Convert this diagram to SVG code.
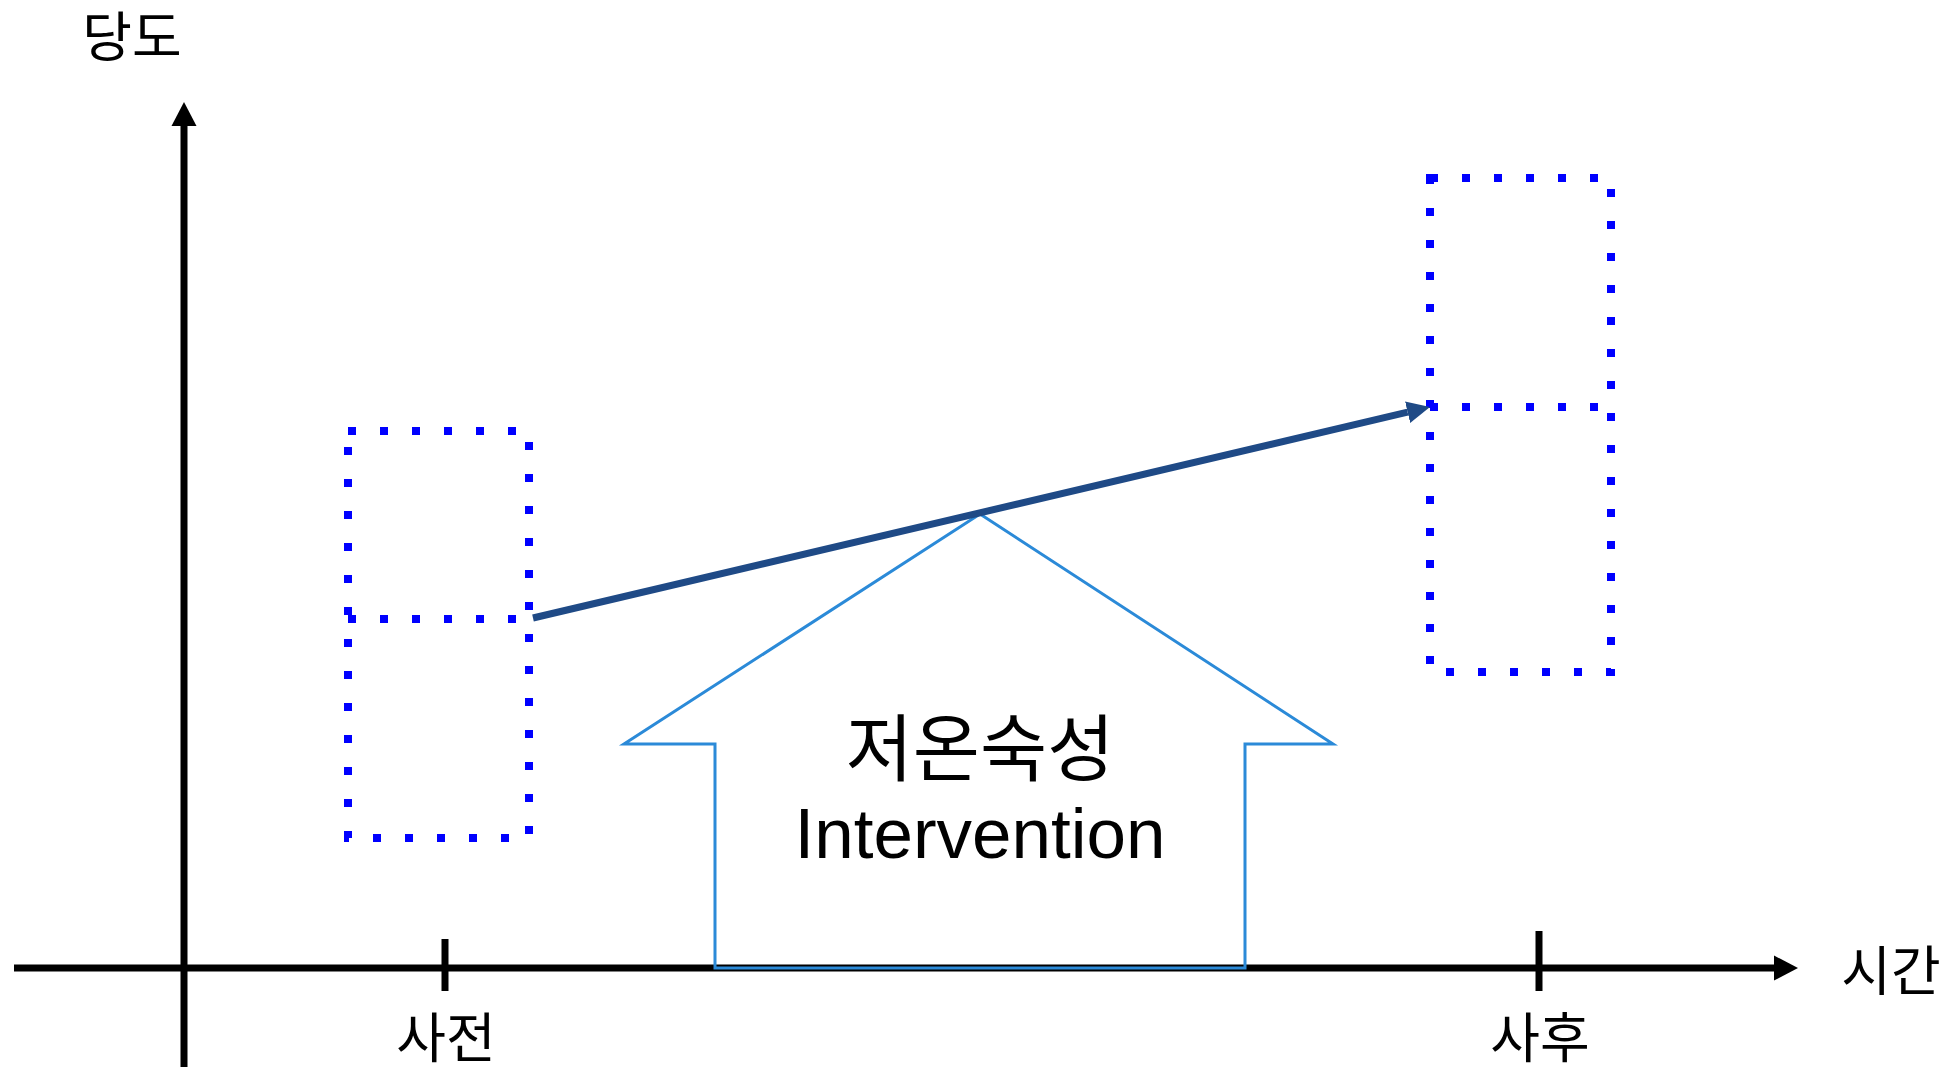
<svg xmlns="http://www.w3.org/2000/svg" width="1951" height="1067" viewBox="0 0 1951 1067">
<style>
.ko{font-family:"Noto Sans CJK KR","Noto Sans",sans-serif;fill:#000}
.lat{font-family:"Liberation Sans",Arial,sans-serif;fill:#000}
.axis{stroke:#000;stroke-width:7;fill:none}
.tick{stroke:#000;stroke-width:7}
.dot{fill:none;stroke:#0000FF;stroke-width:8;stroke-dasharray:8 24}
.trend{stroke:#1F4A86;stroke-width:7;fill:none}
.house{fill:none;stroke:#2B8AD8;stroke-width:3}
</style>
<defs>
<marker id="axHead" markerUnits="userSpaceOnUse" viewBox="0 -13 24 26" refX="0" refY="0" markerWidth="24" markerHeight="26" orient="auto">
<path d="M0,-12.5 L24,0 L0,12.5 Z" fill="#000"/>
</marker>
<marker id="trendHead" markerUnits="userSpaceOnUse" viewBox="0 -12 23 24" refX="0" refY="0" markerWidth="23" markerHeight="24" orient="auto">
<path d="M0,-11 L23,0 L0,11 Z" fill="#1F4A86"/>
</marker>
</defs>
<rect width="1951" height="1067" fill="#fff"/>
<g id="axes">
<line class="axis" x1="14" y1="968" x2="1774" y2="968" marker-end="url(#axHead)"/>
<line class="axis" x1="184" y1="1067" x2="184" y2="126" marker-end="url(#axHead)"/>
<line class="tick" x1="445" y1="939" x2="445" y2="991"/>
<line class="tick" x1="1539" y1="931" x2="1539" y2="991"/>
</g>
<g id="labels">
<text class="ko" x="132" y="57" font-size="54" text-anchor="middle">당도</text>
<text class="ko" x="446" y="1058" font-size="54" text-anchor="middle">사전</text>
<text class="ko" x="1540" y="1058" font-size="54" text-anchor="middle">사후</text>
<text class="ko" x="1891" y="991" font-size="54" text-anchor="middle">시간</text>
</g>
<g id="before-box">
<rect class="dot" x="348" y="431" width="181" height="407"/>
<line class="dot" x1="348" y1="619" x2="529" y2="619"/>
</g>
<g id="after-box">
<rect class="dot" x="1430" y="178" width="181" height="494"/>
<line class="dot" x1="1430" y1="407" x2="1611" y2="407"/>
</g>
<g id="intervention">
<path class="house" d="M980,514 L1333,744 L1245,744 L1245,968 L715,968 L715,744 L624,744 Z"/>
<text class="ko" x="980" y="775" font-size="73" text-anchor="middle">저온숙성</text>
<text class="lat" x="980" y="858" font-size="71" text-anchor="middle">Intervention</text>
</g>
<g id="connectors">
<line class="trend" x1="533" y1="618" x2="1407.6" y2="412.2" marker-end="url(#trendHead)"/>
</g>
</svg>
